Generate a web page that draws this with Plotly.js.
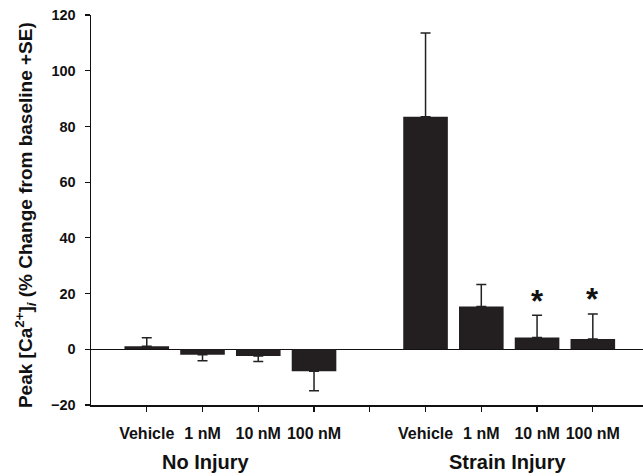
<!DOCTYPE html>
<html>
<head>
<meta charset="utf-8">
<script src="https://cdn.plot.ly/plotly-3.0.1.min.js"></script>
<style>
html, body { margin: 0; padding: 0; background: #fff; overflow: hidden; }
#chart { width: 643px; height: 476px; }
</style>
</head>
<body>
<div id="chart"></div>
<script>
// ---- data ----
var categories = ['Vehicle', '1 nM', '10 nM', '100 nM'];
var groups = ['No Injury', 'Strain Injury'];
var noInjury = [1.1, -2.0, -2.4, -7.9];
var noInjuryErr = [3.0, 2.1, 2.0, 7.0];
var strainInjury = [83.5, 15.4, 4.2, 3.7];
var strainInjuryErr = [30.0, 7.9, 8.0, 9.0];
var strainSignificant = [false, false, true, true];
var yTicks = [-20, 0, 20, 40, 60, 80, 100, 120];

var FONT = 'Liberation Sans, Arial, Helvetica, sans-serif';
var BAR = '#231f20';
var INK = '#111';

var xNo = categories.map(function (c, i) { return i + 1; });
var xStrain = categories.map(function (c, i) { return i + 6; });
var xGap = 5;

function oneSided(vals, errs) {
  return {
    type: 'data', symmetric: false,
    array: vals.map(function (v, i) { return v >= 0 ? errs[i] : 0; }),
    arrayminus: vals.map(function (v, i) { return v < 0 ? errs[i] : 0; }),
    color: '#222', thickness: 1.5, width: 5
  };
}

var traces = [
  { type: 'bar', x: xNo, y: noInjury, width: 0.8, marker: { color: BAR, line: { width: 0 } },
    error_y: oneSided(noInjury, noInjuryErr), showlegend: false, name: groups[0] },
  { type: 'bar', x: xStrain, y: strainInjury, width: 0.8, marker: { color: BAR, line: { width: 0 } },
    error_y: oneSided(strainInjury, strainInjuryErr), showlegend: false, name: groups[1] }
];

var tickvals = xNo.concat(xStrain);
var ticktext = categories.concat(categories);

var annotations = [
  { xref: 'paper', yref: 'paper', x: -0.1196, y: 0.487, xanchor: 'center', yanchor: 'middle',
    textangle: -90, showarrow: false,
    text: 'Peak [Ca<sup>2+</sup>]<sub><i>i</i></sub> (% Change from baseline +SE)',
    font: { family: FONT, size: 19, weight: 'bold', color: INK } },
  { xref: 'x', yref: 'paper', x: 2.07, y: -0.146, xanchor: 'center', yanchor: 'middle', showarrow: false,
    text: groups[0], font: { family: FONT, size: 20, weight: 'bold', color: INK } },
  { xref: 'x', yref: 'paper', x: 7.47, y: -0.146, xanchor: 'center', yanchor: 'middle', showarrow: false,
    text: groups[1], font: { family: FONT, size: 20, weight: 'bold', color: INK } }
];
strainSignificant.forEach(function (s, i) {
  if (s) {
    annotations.push({ xref: 'x', yref: 'y', x: xStrain[i], y: strainInjury[i] + strainInjuryErr[i] + 8,
      xanchor: 'center', yanchor: 'middle', showarrow: false, text: '*', yshift: -8,
      font: { family: FONT, size: 31, weight: 'bold', color: INK } });
  }
});

var layout = {
  width: 643, height: 476,
  margin: { l: 91, r: 0, t: 15, b: 71, pad: 0 },
  paper_bgcolor: '#fff', plot_bgcolor: '#fff',
  font: { family: FONT, color: INK },
  showlegend: false,
  xaxis: {
    range: [0, 9.9], tickmode: 'array', tickvals: tickvals, ticktext: ticktext,
    showline: true, linecolor: INK, linewidth: 1.5, mirror: false,
    ticks: 'outside', ticklen: 5, tickwidth: 1.2, tickcolor: INK,
    minor: { tickmode: 'array', tickvals: [xGap], ticks: 'outside', ticklen: 5, tickwidth: 1.2, tickcolor: INK, showgrid: false },
    showgrid: false, zeroline: false, ticklabelstandoff: 8,
    tickfont: { family: FONT, size: 16, weight: 'bold', color: INK }
  },
  yaxis: {
    range: [-20, 120], tickmode: 'array', tickvals: yTicks,
    showline: true, linecolor: INK, linewidth: 1.5,
    ticks: 'outside', ticklen: 5, tickwidth: 1.2, tickcolor: INK,
    showgrid: false, zeroline: true, zerolinecolor: INK, zerolinewidth: 1.2,
    ticklabelstandoff: 6,
    tickfont: { family: FONT, size: 14.5, weight: 'bold', color: INK }
  },
  annotations: annotations
};

Plotly.newPlot('chart', traces, layout, { displayModeBar: false, staticPlot: true });
</script>
</body>
</html>
